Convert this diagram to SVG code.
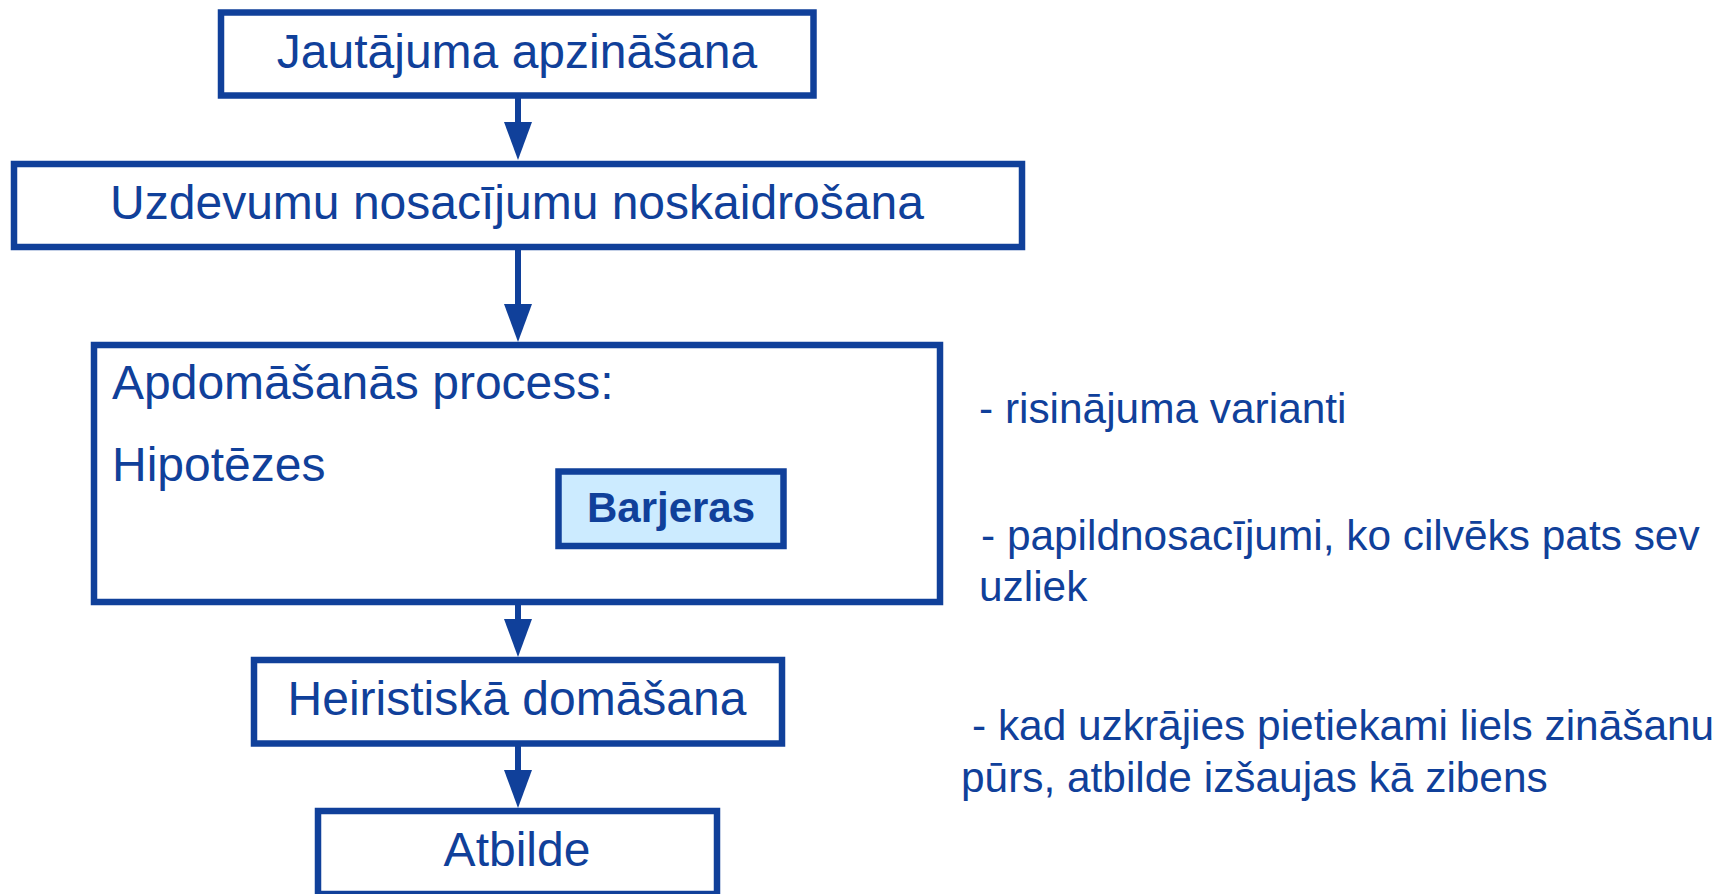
<svg xmlns="http://www.w3.org/2000/svg" width="1721" height="894" viewBox="0 0 1721 894">
<style>
.box{fill:#ffffff;stroke:#10409A;stroke-width:6.5}
.bar{fill:#CCEBFF;stroke:#10409A;stroke-width:6.5}
.t{font-family:"Liberation Sans",Arial,sans-serif;font-size:48px;fill:#10409A}
.c{text-anchor:middle}
.b{font-size:42px;font-weight:bold}
.s{font-size:42.4px}
.conn{stroke:#10409A;stroke-width:6;fill:none}
</style>
<defs>
<marker id="ah" markerUnits="userSpaceOnUse" markerWidth="38" markerHeight="28" refX="0" refY="14" orient="auto" viewBox="0 0 38 28">
<path d="M0,0 L38,14 L0,28 z" fill="#10409A"/>
</marker>
</defs>
<rect width="1721" height="894" fill="#ffffff"/>
<g id="connectors">
<line class="conn" x1="518" y1="98" x2="518" y2="122" marker-end="url(#ah)"/>
<line class="conn" x1="518" y1="249" x2="518" y2="304" marker-end="url(#ah)"/>
<line class="conn" x1="518" y1="604" x2="518" y2="619" marker-end="url(#ah)"/>
<line class="conn" x1="518" y1="746" x2="518" y2="770" marker-end="url(#ah)"/>
</g>
<g id="n1">
<rect class="box" x="221" y="12.5" width="592.5" height="83"/>
<text class="t c" x="517" y="68">Jautājuma apzināšana</text>
</g>
<g id="n2">
<rect class="box" x="14" y="164" width="1008" height="83"/>
<text class="t c" x="517" y="219">Uzdevumu nosacījumu noskaidrošana</text>
</g>
<g id="n3">
<rect class="box" x="94" y="345" width="846" height="257"/>
<text class="t" x="112" y="399">Apdomāšanās process:</text>
<text class="t" x="112" y="481">Hipotēzes</text>
</g>
<g id="n3b">
<rect class="bar" x="558.5" y="471.5" width="225" height="74.5"/>
<text class="t c b" x="671" y="522">Barjeras</text>
</g>
<g id="n4">
<rect class="box" x="254" y="660" width="528" height="83.5"/>
<text class="t c" x="517" y="715">Heiristiskā domāšana</text>
</g>
<g id="n5">
<rect class="box" x="318" y="811" width="399" height="83"/>
<text class="t c" x="517" y="866">Atbilde</text>
</g>
<g id="notes">
<text class="t s" x="979" y="423">- risinājuma varianti</text>
<text class="t s" x="981" y="550">- papildnosacījumi, ko cilvēks pats sev</text>
<text class="t s" x="979" y="601">uzliek</text>
<text class="t s" x="972" y="740">- kad uzkrājies pietiekami liels zināšanu</text>
<text class="t s" x="961" y="792">pūrs, atbilde izšaujas kā zibens</text>
</g>
</svg>
